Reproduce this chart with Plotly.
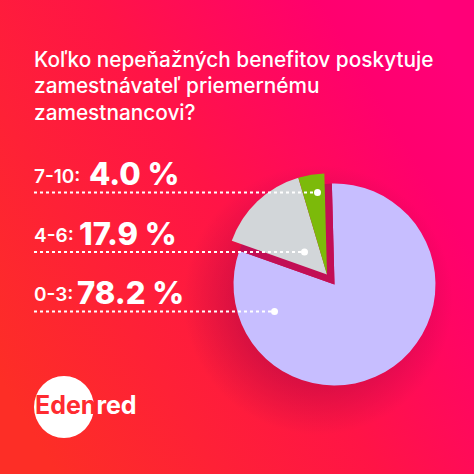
#%% IMPORTS
import base64
import plotly.graph_objects as go

#%% DATA
categories = ['0-3:', '4-6:', '7-10:']
shareLabels = ['78.2 %', '17.9 %', '4.0 %']
# angles as actually drawn in the picture (degrees), they don't follow the printed shares
sliceAngles = [291, 54, 15]
sliceColors = ['#c7beff', '#d2d6d9', '#7cba0a']
gapColor = '#c20f55'
clear = 'rgba(0,0,0,0)'

titleLines = ['Koľko nepeňažných benefitov poskytuje', 'zamestnávateľ priemernému', 'zamestnancovi?']

#%% HELPERS (pixels of the 474 window to paper coords)
W = 474
def px(x): return x / W
def py(y): return 1 - y / W

#%% BACKGROUND
svg = f'''<svg xmlns="http://www.w3.org/2000/svg" width="{W}" height="{W}">
<defs>
<linearGradient id="bg" x1="0" y1="0.8" x2="1" y2="0.2">
<stop offset="0" stop-color="#fd2e26"/><stop offset="0.5" stop-color="#ff1446"/><stop offset="0.85" stop-color="#ff006e"/><stop offset="1" stop-color="#ff0078"/>
</linearGradient>
<radialGradient id="glow" gradientUnits="userSpaceOnUse" cx="318" cy="300" r="135">
<stop offset="0.6" stop-color="#800040" stop-opacity="0.3"/><stop offset="1" stop-color="#800040" stop-opacity="0"/>
</radialGradient>
</defs>
<rect width="{W}" height="{W}" fill="url(#bg)"/>
<rect width="{W}" height="{W}" fill="url(#glow)"/>
</svg>'''
bgSource = 'data:image/svg+xml;base64,' + base64.b64encode(svg.encode()).decode()

#%% PIE: big slice and the two pulled slices as separate layers
def pieTrace(cx, cy, colors):
    r = 101
    return go.Pie(
        labels = categories,
        values = sliceAngles,
        sort = False,
        direction = 'clockwise',
        rotation = -1.5,
        textinfo = 'none',
        hoverinfo = 'skip',
        showlegend = False,
        marker = dict(colors = colors, line = dict(width = 0)),
        domain = dict(x = [px(cx - r), px(cx + r)], y = [py(cy + r), py(cy - r)]))

fig = go.Figure()
fig.add_trace(pieTrace(334.5, 284.5, [sliceColors[0], gapColor, gapColor]))
fig.add_trace(pieTrace(327, 274.5, [clear, sliceColors[1], sliceColors[2]]))

#%% LEADER LINES
shapes = []
annotations = []
leaderY = [311.5, 252, 192.5]
leaderEnd = [274.5, 304.5, 317.5]
for y, xEnd in zip(leaderY, leaderEnd):
    shapes.append(dict(type = 'line', xref = 'paper', yref = 'paper', x0 = px(34), x1 = px(xEnd), y0 = py(y), y1 = py(y),
        line = dict(color = 'white', width = 2, dash = 'dot')))
    shapes.append(dict(type = 'circle', xref = 'paper', yref = 'paper', x0 = px(xEnd - 3.5), x1 = px(xEnd + 3.5), y0 = py(y + 3.5), y1 = py(y - 3.5),
        fillcolor = 'white', line = dict(width = 0)))

#%% LOGO DISC
shapes.append(dict(type = 'circle', xref = 'paper', yref = 'paper', x0 = px(34), x1 = px(94), y0 = py(438), y1 = py(376),
    fillcolor = 'white', line = dict(width = 0), layer = 'below'))

#%% TEXT
def addText(x, y, text, size, family = 'Inter', color = 'white', weight = 'normal'):
    annotations.append(dict(xref = 'paper', yref = 'paper', x = px(x), y = py(y), text = text, showarrow = False,
        xanchor = 'left', yanchor = 'middle', align = 'left', font = dict(family = family, size = size, color = color, weight = weight)))

titleY = [59, 85, 112]
for line, y in zip(titleLines, titleY):
    addText(32, y, line, 20.8, weight = 500)

labelY = [292, 233, 174]
labelX = [75, 77, 87]
for cat, share, y, x in zip(categories, shareLabels, labelY, labelX):
    addText(32, y + 2, cat, 19, weight = 600)
    addText(x, y, share, 31, weight = 800)

addText(33, 405, '<span style="color:#ff2b30">Eden</span>red', 25, weight = 700)

#%% LAYOUT
fig.update_layout(
    width = W, height = W,
    margin = dict(l = 0, r = 0, t = 0, b = 0),
    paper_bgcolor = '#ff1446',
    images = [dict(source = bgSource, xref = 'paper', yref = 'paper', x = 0, y = 1, sizex = 1, sizey = 1,
        xanchor = 'left', yanchor = 'top', sizing = 'stretch', layer = 'below')],
    shapes = shapes,
    annotations = annotations)

# browser default body margin would push the chart out of the window
fig.write_html('out.html', config = dict(displayModeBar = False),
    post_script = "document.body.style.margin = '0';")
